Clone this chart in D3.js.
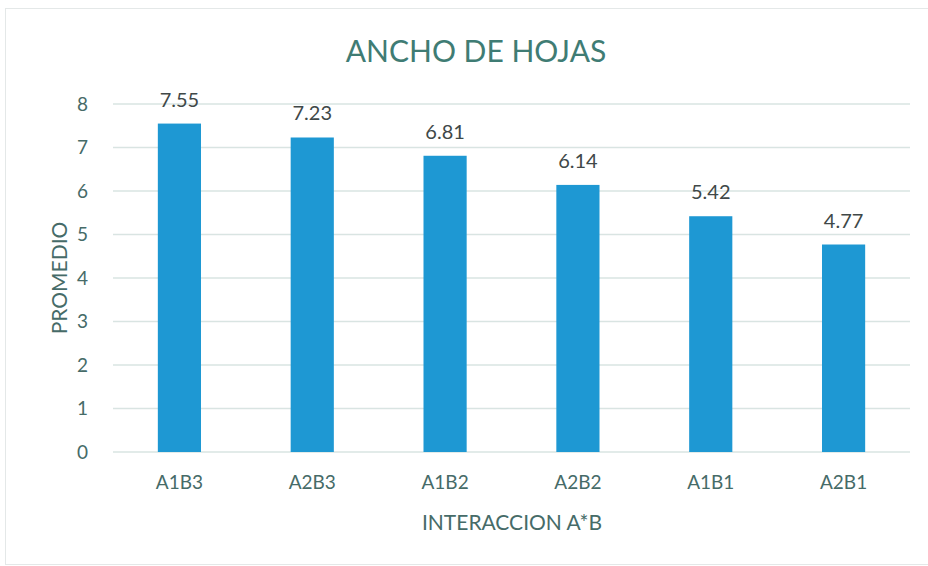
<!DOCTYPE html>
<meta charset="utf-8">
<style>
  body { margin: 0; background: #fff; }
  text { font-family: Lato, "Open Sans", sans-serif; }
</style>
<body>
<svg width="928" height="566"></svg>
</body>
<script src="https://d3js.org/d3.v7.min.js"></script>
<script>

var categories = ["A1B3", "A2B3", "A1B2", "A2B2", "A1B1", "A2B1"];
var values = [7.55, 7.23, 6.81, 6.14, 5.42, 4.77];
var yTicks = [0, 1, 2, 3, 4, 5, 6, 7, 8];

var svg = d3.select("svg"),
    width = 928,
    height = 566;

var margin = {top: 104, right: 18, bottom: 114, left: 113};

var x = d3.scaleBand()
    .domain(categories)
    .range([margin.left, width - margin.right])
    .paddingInner(0.675)
    .paddingOuter(0.3375);

var y = d3.scaleLinear()
    .domain([0, 8])
    .range([height - margin.bottom, margin.top]);

// chart border
svg.append("rect")
    .attr("x", 5.5).attr("y", 8.5)
    .attr("width", 940).attr("height", 556)
    .attr("fill", "none")
    .attr("stroke", "#e4e8e8");

// gridlines
svg.append("g")
    .selectAll("line")
    .data(yTicks)
    .join("line")
    .attr("x1", margin.left)
    .attr("x2", width - margin.right)
    .attr("y1", d => y(d))
    .attr("y2", d => y(d))
    .attr("stroke", "#d9e4e2")
    .attr("stroke-width", 1.3);

// y axis labels
var yAxis = svg.append("g")
    .attr("transform", "translate(" + (margin.left - 25) + ",0)")
    .call(d3.axisLeft(y).tickValues(yTicks).tickSize(0).tickPadding(0));
yAxis.select(".domain").remove();
yAxis.selectAll("text")
    .attr("font-size", 19)
    .attr("font-family", "Lato, sans-serif")
    .attr("fill", "#466b68");

// x axis labels
var xAxis = svg.append("g")
    .attr("transform", "translate(0," + y(0) + ")")
    .call(d3.axisBottom(x).tickSize(0).tickPadding(24));
xAxis.select(".domain").remove();
xAxis.selectAll("text")
    .attr("font-size", 19)
    .attr("font-family", "Lato, sans-serif")
    .attr("fill", "#466b68");

// bars
svg.append("g")
    .selectAll("rect")
    .data(values)
    .join("rect")
    .attr("x", (d, i) => x(categories[i]))
    .attr("y", d => y(d))
    .attr("width", x.bandwidth())
    .attr("height", d => y(0) - y(d))
    .attr("fill", "#1e98d3");

// value labels
svg.append("g")
    .selectAll("text")
    .data(values)
    .join("text")
    .attr("x", (d, i) => x(categories[i]) + x.bandwidth() / 2)
    .attr("y", d => y(d) - 17)
    .attr("text-anchor", "middle")
    .attr("font-size", 20)
    .attr("fill", "#404848")
    .text(d => d.toFixed(2));

// title
svg.append("text")
    .attr("x", 476)
    .attr("y", 62)
    .attr("text-anchor", "middle")
    .attr("font-size", 30)
    .attr("fill", "#3f7c74")
    .text("ANCHO DE HOJAS");

// axis titles
svg.append("text")
    .attr("x", 512)
    .attr("y", 530)
    .attr("text-anchor", "middle")
    .attr("font-size", 21)
    .attr("fill", "#466b68")
    .text("INTERACCION A*B");

svg.append("text")
    .attr("transform", "translate(67," + y(4) + ") rotate(-90)")
    .attr("text-anchor", "middle")
    .attr("font-size", 21)
    .attr("fill", "#466b68")
    .text("PROMEDIO");

</script>
